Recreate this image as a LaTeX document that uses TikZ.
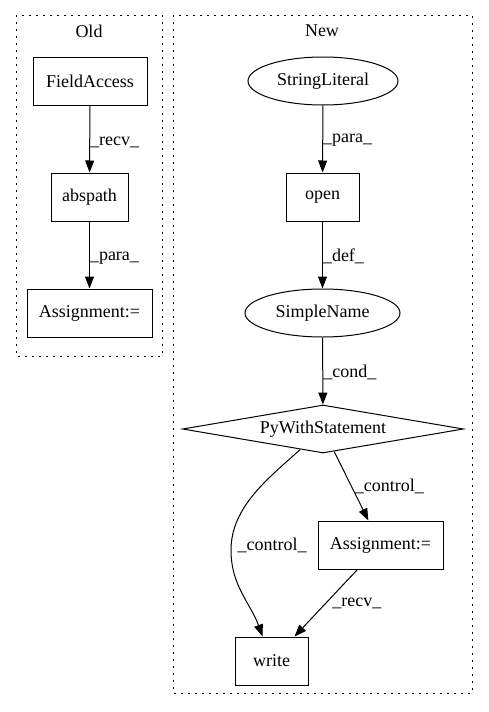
\documentclass[tikz,border=0pt]{standalone}
\usepackage{fontspec}
\setmainfont{Liberation Serif}
\usetikzlibrary{arrows.meta,shapes.geometric}
\begin{document}
\begin{tikzpicture}[x=1pt,y=-1pt,
  txt/.style={font=\fontsize{18}{21}\selectfont},
  box/.style={txt,draw,line width=1pt,minimum height=48pt,inner sep=0pt},
  ell/.style={txt,draw,ellipse,line width=1pt,minimum height=48pt,inner sep=0pt},
  dia/.style={txt,draw,diamond,line width=1pt,inner sep=0pt,shape aspect=5.8,minimum width=281pt,minimum height=48pt},
  edge/.style={line width=1pt,-{Triangle[length=12pt,width=9pt]}},
  lbl/.style={txt,anchor=west,inner sep=0pt},
  cluster/.style={dash pattern=on 2pt off 5pt,line width=1pt}]
\useasboundingbox (0,0) rectangle (488,712);
% clusters
\draw[cluster] (16,15) rectangle (162,356);
\draw[cluster] (173,15) rectangle (472,693);
\node[txt] (oldlbl) at (89,31) {Old};
\node[txt] (newlbl) at (322,31) {New};
% Old
\node[box,minimum width=114pt] (fa) at (90,81) {FieldAccess};
\node[box,minimum width=77pt] (abs) at (89.5,197) {abspath};
\node[box,minimum width=125pt] (asgold) at (89.5,313) {Assignment:=};
\draw[edge] (fa) -- node[lbl,pos=0.55]{\_recv\_} (abs);
\draw[edge] (abs) -- node[lbl,pos=0.55]{\_para\_} (asgold);
% New
\node[ell,minimum width=150pt] (sl) at (323,81) {StringLiteral};
\node[box,minimum width=73pt] (open) at (322.5,197) {open};
\node[ell,minimum width=155pt] (sn) at (322.5,313) {SimpleName};
\node[dia] (pws) at (323,429) {PyWithStatement};
\node[box,minimum width=125pt] (asgnew) at (380.5,545) {Assignment:=};
\node[box,minimum width=73pt] (write) at (271.5,661) {write};
\coordinate (bend) at (231,550);
\draw[edge] (sl) -- node[lbl,pos=0.52]{\_para\_} (open);
\draw[edge] (open) -- node[lbl,pos=0.52]{\_def\_} (sn);
\draw[edge] (sn) -- node[lbl,pos=0.52]{\_cond\_} (pws);
\draw[edge] (pws) -- node[lbl,pos=0.5,xshift=3pt]{\_control\_} (asgnew);
\draw[edge] (pws) to[out=222,in=90,looseness=0.9] (bend) to[out=-90,in=110] (write);
\node[txt] (ctl2) at (272,545) {\_control\_};
\draw[edge] (asgnew) -- node[lbl,pos=0.5,xshift=6pt]{\_recv\_} (write);
\end{tikzpicture}
\end{document}
